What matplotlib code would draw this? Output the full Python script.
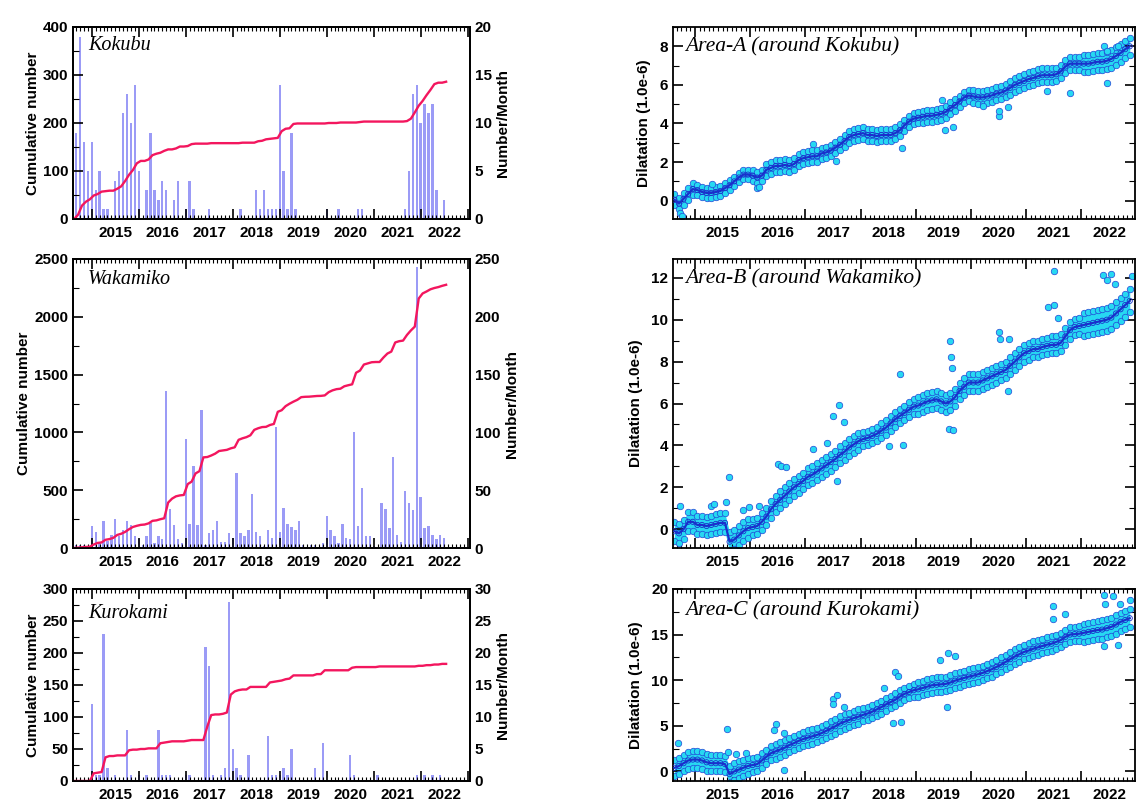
import numpy as np
import matplotlib.pyplot as plt
from matplotlib.ticker import MultipleLocator

# monthly earthquake counts, first bar = Sep 2014
month0 = 2014 + 8 / 12
kokubu_counts = [9, 19, 8, 5, 8, 3, 5, 1, 1, 0, 4, 5,
                 11, 13, 10, 14, 5, 0, 3, 9, 3, 2, 4, 3,
                 0, 2, 4, 0, 1, 4, 1, 0, 0, 0, 1, 0,
                 0, 0, 0, 0, 0, 0, 1, 0, 0, 0, 3, 1,
                 3, 1, 1, 1, 14, 5, 1, 9, 1, 0, 0, 0,
                 0, 0, 0, 0, 1, 0, 0, 1, 0, 0, 0, 0,
                 1, 1, 0, 0, 0, 0, 0, 0, 0, 0, 0, 0,
                 1, 5, 13, 14, 10, 12, 11, 12, 3, 0, 2]
wakamiko_counts = [3, 3, 3, 2, 19, 14, 4, 23, 6, 11, 25, 10,
                   16, 23, 20, 10, 8, 3, 10, 22, 4, 10, 8, 136,
                   34, 20, 8, 4, 94, 21, 71, 20, 119, 3, 13, 16,
                   23, 5, 5, 13, 9, 65, 13, 10, 16, 47, 14, 10,
                   2, 16, 9, 105, 14, 35, 21, 18, 16, 23, 3, 1,
                   3, 3, 1, 4, 28, 16, 10, 4, 21, 9, 8, 100,
                   19, 52, 10, 10, 2, 0, 39, 34, 17, 79, 11, 5,
                   49, 39, 33, 243, 44, 17, 19, 11, 8, 11, 9]
kurokami_counts = [0, 0, 0, 0, 12, 1, 1, 23, 2, 0, 1, 0,
                   0, 8, 1, 0, 1, 0, 1, 0, 0, 8, 1, 1,
                   1, 0, 0, 0, 1, 1, 0, 0, 0, 21, 18, 1,
                   0, 1, 2, 28, 5, 2, 1, 0, 4, 0, 0, 0,
                   0, 7, 1, 1, 1, 2, 1, 5, 0, 0, 0, 0,
                   0, 2, 0, 6, 0, 0, 0, 0, 0, 0, 4, 1,
                   0, 0, 0, 0, 0, 1, 0, 0, 0, 0, 0, 0,
                   0, 0, 0, 1, 0, 1, 0, 1, 0, 1, 0]

# dilatation, monthly values from Aug 2014
dil0 = 2014 + 7.5 / 12
area_a = [0.05, -0.15, 0.1, 0.35, 0.6,
          0.55, 0.45, 0.4, 0.4, 0.45, 0.5, 0.65, 0.8, 1.0, 1.2, 1.35, 1.35,
          1.3, 1.2, 1.3, 1.6, 1.7, 1.8, 1.8, 1.85, 1.8, 1.9, 2.1, 2.2,
          2.25, 2.3, 2.3, 2.45, 2.5, 2.6, 2.75, 2.9, 3.1, 3.3, 3.4, 3.45,
          3.5, 3.4, 3.4, 3.35, 3.4, 3.4, 3.4, 3.5, 3.65, 3.9, 4.1, 4.25,
          4.3, 4.35, 4.4, 4.4, 4.45, 4.5, 4.6, 4.8, 4.95, 5.15, 5.35, 5.45,
          5.4, 5.35, 5.35, 5.4, 5.45, 5.55, 5.6, 5.7, 5.85, 6.0, 6.1, 6.2,
          6.3, 6.35, 6.45, 6.5, 6.5, 6.5, 6.55, 6.7, 6.95, 7.1, 7.1, 7.1,
          7.1, 7.1, 7.15, 7.2, 7.2, 7.25, 7.35, 7.5, 7.65, 7.85, 8.0]
area_b = [-0.1, -0.2, 0.0, 0.35, 0.35,
          0.2, 0.2, 0.15, 0.2, 0.25, 0.3, 0.3, -0.6, -0.5, -0.3, -0.1, 0.05,
          0.1, 0.15, 0.35, 0.6, 0.95, 1.2, 1.4, 1.6, 1.8, 2.0, 2.15, 2.3,
          2.5, 2.6, 2.75, 2.9, 3.05, 3.2, 3.35, 3.55, 3.7, 3.9, 4.05, 4.2,
          4.3, 4.35, 4.45, 4.55, 4.7, 4.85, 5.05, 5.25, 5.4, 5.55, 5.7, 5.85,
          5.9, 6.0, 6.1, 6.15, 6.2, 6.1, 6.0, 6.1, 6.3, 6.6, 6.8, 7.0,
          7.0, 7.0, 7.1, 7.2, 7.3, 7.4, 7.5, 7.6, 7.8, 8.0, 8.2, 8.4,
          8.5, 8.6, 8.6, 8.7, 8.75, 8.8, 8.8, 8.9, 9.2, 9.5, 9.65, 9.7,
          9.75, 9.8, 9.85, 9.9, 9.95, 10.0, 10.1, 10.3, 10.5, 10.7, 10.9]
area_c = [0.4, 0.6, 0.9, 1.2, 1.3,
          1.3, 1.2, 1.0, 0.9, 0.9, 0.9, 0.8, -0.3, 0.0, 0.2, 0.4, 0.6,
          0.7, 0.8, 1.2, 1.6, 2.0, 2.2, 2.4, 2.6, 2.9, 3.1, 3.35, 3.55,
          3.7, 3.85, 4.0, 4.2, 4.45, 4.7, 4.95, 5.25, 5.45, 5.65, 5.85, 6.0,
          6.2, 6.35, 6.55, 6.8, 7.05, 7.35, 7.6, 7.85, 8.2, 8.5, 8.7, 8.9,
          9.0, 9.15, 9.3, 9.45, 9.5, 9.55, 9.6, 9.75, 9.95, 10.1, 10.25, 10.4,
          10.5, 10.65, 10.8, 11.0, 11.2, 11.45, 11.7, 12.0, 12.3, 12.6, 12.85, 13.1,
          13.25, 13.45, 13.6, 13.75, 13.9, 14.0, 14.2, 14.4, 14.75, 15.0, 15.05, 15.1,
          15.2, 15.3, 15.4, 15.5, 15.55, 15.7, 15.85, 16.1, 16.4, 16.6, 16.8]

# half width of the scatter band, per year 2014..2022
spread_a = [0.3, 0.25, 0.3, 0.3, 0.3, 0.3, 0.35, 0.35, 0.45]
spread_b = [0.45, 0.45, 0.4, 0.4, 0.35, 0.4, 0.4, 0.4, 0.55]
spread_c = [0.9, 0.9, 0.8, 0.8, 0.7, 0.8, 0.8, 0.8, 1.0]

# scattered single points off the band
out_a_x = [2014.73, 2014.76, 2015.3, 2016.12, 2016.15, 2017.13, 2017.55, 2018.75, 2019.47, 2019.52, 2019.67,
           2020.22, 2020.5, 2020.5, 2020.67, 2021.37, 2021.8, 2022.4, 2022.46, 2022.47, 2022.67]
out_a_y = [-0.65, -0.8, 0.85, 0.65, 0.7, 2.94, 2.04, 2.73, 5.23, 3.68, 3.8,
           4.9, 4.4, 4.66, 4.85, 5.7, 5.6, 8.0, 6.1, 7.75, 8.0]
out_b_x = [2014.72, 2015.28, 2015.34, 2015.56, 2015.62, 2015.87, 2015.98, 2016.15, 2016.51, 2016.56,
           2016.65, 2017.13, 2017.39, 2017.5, 2017.58, 2017.6, 2017.69, 2018.51, 2018.72, 2018.76,
           2019.6, 2019.61, 2019.63, 2019.65, 2019.68, 2020.5, 2020.53, 2020.67, 2020.69, 2021.4,
           2021.5, 2021.5, 2021.58, 2022.39, 2022.47, 2022.54, 2022.6, 2022.91]
out_b_y = [1.1, 1.1, 1.2, 1.3, 2.5, 0.9, 1.05, 1.1, 3.1, 3.0,
           2.95, 3.85, 4.1, 5.4, 2.3, 5.95, 5.1, 3.95, 7.4, 4.0,
           4.8, 8.97, 8.2, 7.7, 4.75, 9.4, 9.1, 6.6, 9.1, 10.6,
           12.35, 10.7, 10.1, 12.15, 11.9, 12.2, 11.7, 12.1]
out_c_x = [2014.69, 2015.57, 2015.59, 2015.75, 2015.93, 2016.43, 2016.46, 2016.62, 2016.62, 2017.49,
           2017.49, 2017.57, 2017.69, 2018.42, 2018.62, 2018.68, 2018.58, 2018.73, 2019.44, 2019.57,
           2019.58, 2019.71, 2021.48, 2021.48, 2021.7, 2022.4, 2022.43, 2022.58, 2022.7, 2022.4,
           2022.66, 2022.88]
out_c_y = [3.1, 4.6, 2.1, 1.9, 1.97, 4.5, 5.2, 4.2, 0.15, 7.9,
           7.4, 8.4, 7.1, 9.2, 10.9, 10.5, 5.3, 5.4, 12.2, 7.1,
           13.0, 12.7, 18.1, 16.7, 17.3, 19.3, 18.4, 19.2, 18.4, 13.8,
           13.9, 18.8]

years = np.arange(2015, 2023)

plt.rcParams['font.family'] = ['Liberation Sans', 'DejaVu Sans']
plt.rcParams['font.weight'] = 'bold'
plt.rcParams['axes.labelweight'] = 'bold'
plt.rcParams['axes.linewidth'] = 1.3

BAR = '#9b9bf6'
LINE = '#f3165e'
FACE = '#27d8f2'
EDGE = '#2245d6'
FS = 11


def bold_ticks(ax):
    for t in ax.get_xticklabels() + ax.get_yticklabels():
        t.set_fontweight('bold')


def year_axis(ax, xlim):
    ax.set_xlim(*xlim)
    ax.xaxis.set_major_locator(MultipleLocator(1))
    ax.xaxis.set_minor_locator(MultipleLocator(1 / 12))
    ax.tick_params(axis='x', which='both', direction='in', top=True, labelbottom=False)
    ax.tick_params(axis='x', which='major', length=7, width=1.2)
    ax.tick_params(axis='x', which='minor', length=3, width=0.8)
    sec = ax.secondary_xaxis('bottom')
    sec.set_xticks(years + 0.5, [str(y) for y in years], fontweight='bold', fontsize=FS)
    sec.tick_params(length=0, pad=5)
    sec.spines['bottom'].set_visible(False)


def y_ticks(ax, major, lim, right=False):
    ax.set_ylim(*lim)
    ax.yaxis.set_major_locator(MultipleLocator(major))
    ax.yaxis.set_minor_locator(MultipleLocator(major / 2))
    ax.tick_params(axis='y', which='both', direction='in', labelsize=FS, right=right)
    ax.tick_params(axis='y', which='major', length=7, width=1.2)
    ax.tick_params(axis='y', which='minor', length=4, width=0.8)
    bold_ticks(ax)


def name_tag(ax, text, dx, dy, size):
    ax.annotate(text, xy=(0, 1), xycoords='axes fraction', xytext=(dx, -dy),
                textcoords='offset pixels', ha='left', va='center',
                family=['Liberation Serif', 'DejaVu Serif'], style='italic',
                fontweight='normal', fontsize=size)


def seis_panel(rect, counts, cmax, cstep, nmax, nstep, name, dy):
    ax = fig.add_axes(rect)
    ax2 = ax.twinx()
    bx = month0 + np.arange(len(counts)) / 12
    ax2.bar(bx, counts, width=0.6 / 12, color=BAR, linewidth=0)
    cx = np.concatenate([[bx[0] - 1 / 24], bx + 1 / 24])
    cy = np.concatenate([[0], np.cumsum(counts)])
    ax.plot(cx, cy, color=LINE, lw=1.7)
    ax.set_zorder(ax2.get_zorder() + 1)
    ax.patch.set_visible(False)
    year_axis(ax, (2014.6, 2023.05))
    y_ticks(ax, cstep, (0, cmax))
    y_ticks(ax2, nstep, (0, nmax))
    ax.set_ylabel('Cumulative number', fontsize=FS, fontweight='bold', labelpad=2)
    ax2.set_ylabel('Number/Month', fontsize=FS, fontweight='bold', labelpad=3)
    name_tag(ax, name, 15, dy, 14.5)


def dil_panel(rect, values, spread, ox, oy, lim, step, name, dy):
    ax = fig.add_axes(rect)
    dx = dil0 + np.arange(len(values)) / 12
    v = np.array(values)
    s = np.array(spread)[(dx - 2014).astype(int)]
    # band body, then bead rows on its edges and centre
    ax.fill_between(dx, v - s, v + s, color=FACE, lw=0, zorder=1)
    kw = dict(s=22, c=FACE, edgecolors=EDGE, linewidths=0.5, zorder=2)
    ax.scatter(dx, v - s, **kw)
    ax.scatter(dx, v + s, **kw)
    ax.scatter(ox, oy, **kw)
    ax.plot(dx, v, color='#1a30cc', lw=1.6, zorder=3)
    ax.scatter(dx, v, s=14, c='none', edgecolors='#1a30cc', linewidths=0.6, zorder=3)
    year_axis(ax, (2014.6, 2022.97))
    y_ticks(ax, step, lim, right=True)
    ax.set_ylabel('Dilatation (1.0e-6)', fontsize=FS, fontweight='bold', labelpad=6)
    name_tag(ax, name, 12, dy, 15.5)


fig = plt.figure(figsize=(11.4, 8.1), dpi=100)

lx, lw = 73 / 1140, 397 / 1140
rx, rw = 673 / 1140, 462 / 1140
rows = [(1 - 219 / 810, 192 / 810), (1 - 548 / 810, 289 / 810), (1 - 781 / 810, 192 / 810)]

seis_panel([lx, rows[0][0], lw, rows[0][1]], kokubu_counts, 400, 100, 20, 5, 'Kokubu', 19)
seis_panel([lx, rows[1][0], lw, rows[1][1]], wakamiko_counts, 2500, 500, 250, 50, 'Wakamiko', 21)
seis_panel([lx, rows[2][0], lw, rows[2][1]], kurokami_counts, 300, 50, 30, 5, 'Kurokami', 24)

dil_panel([rx, rows[0][0], rw, rows[0][1]], area_a, spread_a, out_a_x, out_a_y,
          (-0.95, 9.0), 2, 'Area-A (around Kokubu)', 20)
dil_panel([rx, rows[1][0], rw, rows[1][1]], area_b, spread_b, out_b_x, out_b_y,
          (-0.9, 12.9), 2, 'Area-B (around Wakamiko)', 20)
dil_panel([rx, rows[2][0], rw, rows[2][1]], area_c, spread_c, out_c_x, out_c_y,
          (-1.05, 20), 5, 'Area-C (around Kurokami)', 22)

fig.savefig('out.png', dpi=100)
